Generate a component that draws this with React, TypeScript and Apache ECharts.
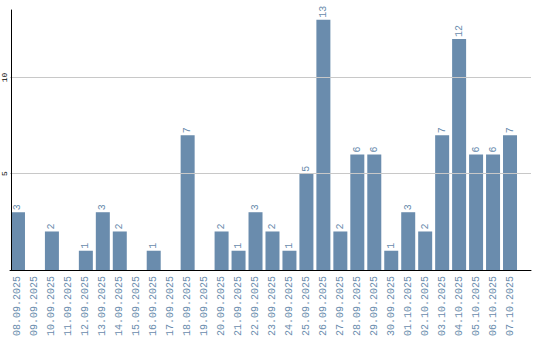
import React, { useEffect, useRef } from "react";
import * as echarts from "echarts";

const categories = [
  "08.09.2025", "09.09.2025", "10.09.2025", "11.09.2025", "12.09.2025",
  "13.09.2025", "14.09.2025", "15.09.2025", "16.09.2025", "17.09.2025",
  "18.09.2025", "19.09.2025", "20.09.2025", "21.09.2025", "22.09.2025",
  "23.09.2025", "24.09.2025", "25.09.2025", "26.09.2025", "27.09.2025",
  "28.09.2025", "29.09.2025", "30.09.2025", "01.10.2025", "02.10.2025",
  "03.10.2025", "04.10.2025", "05.10.2025", "06.10.2025", "07.10.2025",
];
const values = [3, 0, 2, 0, 1, 3, 2, 0, 1, 0, 7, 0, 2, 1, 3, 2, 1, 5, 13, 2, 6, 6, 1, 3, 2, 7, 12, 6, 6, 7];
const gridValues = [5, 10];

const BLUE = "#6a8cad";
const MONO = "'Liberation Mono', 'DejaVu Sans Mono', monospace";

export default function App() {
  const ref = useRef<HTMLDivElement>(null);
  useEffect(() => {
    if (!ref.current) return;
    document.body.style.margin = "0";
    const chart = echarts.init(ref.current, null, { renderer: "svg" });
    chart.setOption({
      animation: false,
      grid: [
        { left: 8.5, right: 21.5, top: 10, bottom: 70, containLabel: false },
        { left: 10, right: 9, top: 10, bottom: 70, containLabel: false },
      ],
      xAxis: [
        {
          type: "category",
          gridIndex: 0,
          data: categories,
          axisLine: { show: false },
          axisTick: { show: false },
          axisLabel: {
            rotate: 90,
            interval: 0,
            color: BLUE,
            fontFamily: MONO,
            fontSize: 10,
            margin: 6,
          },
        },
        {
          type: "value",
          gridIndex: 1,
          min: 0,
          max: 1,
          axisLine: { show: true, lineStyle: { color: "#000", width: 1 } },
          axisTick: { show: false },
          axisLabel: { show: false },
          splitLine: { show: false },
          z: 10,
        },
      ],
      yAxis: [
        {
          type: "value",
          gridIndex: 0,
          min: 0,
          max: 13.5,
          interval: 5,
          offset: -1.5,
          axisLine: { show: true, lineStyle: { color: "#000", width: 1 } },
          axisTick: { show: false },
          splitLine: { show: false },
          axisLabel: {
            rotate: 90,
            color: "#000",
            fontFamily: MONO,
            fontSize: 8,
            margin: 3,
            showMaxLabel: false,
            formatter: (v: number) => (v === 0 || v > 10 ? "" : String(v)),
          },
          z: 5,
        },
        {
          type: "value",
          gridIndex: 1,
          min: 0,
          max: 13.5,
          show: false,
        },
      ],
      series: [
        {
          type: "line",
          xAxisIndex: 1,
          yAxisIndex: 1,
          data: [],
          z: 1,
          silent: true,
          markLine: {
            silent: true,
            symbol: ["none", "none"],
            label: { show: false },
            lineStyle: { color: "#c8c8c8", type: "solid", width: 1 },
            data: gridValues.map((v) => ({ yAxis: v })),
          },
        },
        {
          type: "bar",
          xAxisIndex: 0,
          yAxisIndex: 0,
          z: 3,
          data: values.map((v) => (v === 0 ? null : v)),
          barWidth: 14,
          itemStyle: { color: BLUE },
          label: {
            show: true,
            position: "top",
            rotate: 90,
            align: "left",
            verticalAlign: "middle",
            distance: 2,
            color: BLUE,
            fontFamily: MONO,
            fontSize: 10,
          },
        },
      ],
    });
    return () => chart.dispose();
  }, []);
  return <div ref={ref} style={{ width: 540, height: 340 }} />;
}
